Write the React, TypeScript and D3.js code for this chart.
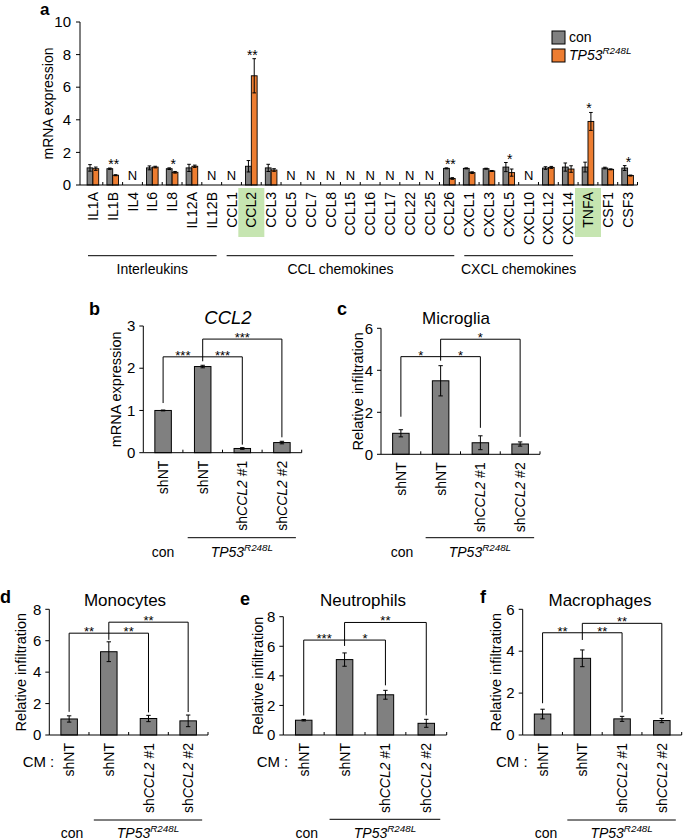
import React from "react";
import * as d3 from "d3";

// ---------- Panel a data ----------
const genes = ["IL1A","IL1B","IL4","IL6","IL8","IL12A","IL12B","CCL1","CCL2","CCL3","CCL5","CCL7","CCL8","CCL15","CCL16","CCL17","CCL22","CCL25","CCL26","CXCL1","CXCL3","CXCL5","CXCL10","CXCL12","CXCL14","TNFA","CSF1","CSF3"];
const conMean: (number | null)[] = [1.05,1.0,null,1.05,1.0,1.05,null,null,1.15,1.05,null,null,null,null,null,null,null,null,1.02,1.02,1.0,1.1,null,1.04,1.1,1.1,1.04,1.04];
const conErr = [0.2,0.04,0,0.12,0.05,0.22,0,0,0.35,0.22,0,0,0,0,0,0,0,0,0.03,0.03,0.03,0.28,0,0.08,0.25,0.3,0.05,0.15];
const mutMean: (number | null)[] = [1.0,0.6,null,1.1,0.78,1.15,null,null,6.7,0.92,null,null,null,null,null,null,null,null,0.4,0.76,0.86,0.76,null,1.08,0.98,3.9,0.96,0.58];
const mutErr = [0.1,0.03,0,0.05,0.05,0.07,0,0,1.05,0.08,0,0,0,0,0,0,0,0,0.05,0.05,0.03,0.22,0,0.06,0.2,0.55,0.03,0.03];
const geneSig = ["","**","","","*","","","","**","","","","","","","","","","**","","","*","","","","*","","*"];
const highlighted = ["CCL2","TNFA"];
const groupNames = ["Interleukins","CCL chemokines","CXCL chemokines"];
const groupStart = ["IL1A","CCL1","CXCL1"];
const groupEnd = ["IL12B","CCL26","CXCL14"];
const yTicksA = [0,2,4,6,8,10];

// ---------- Panels b-f data ----------
const conditions = ["shNT","shNT","shCCL2 #1","shCCL2 #2"];
const panelTitles = ["CCL2","Microglia","Monocytes","Neutrophils","Macrophages"];
const panelLetters = ["b","c","d","e","f"];
const panelYLabels = ["mRNA expression","Relative infiltration","Relative infiltration","Relative infiltration","Relative infiltration"];
const panelMax = [3,6,8,8,6];
const panelStep = [1,2,2,2,2];
const bValues = [1.0,2.04,0.1,0.24];
const bErrors = [0.01,0.03,0.02,0.03];
const cValues = [1.0,3.5,0.55,0.49];
const cErrors = [0.17,0.72,0.33,0.1];
const dValues = [1.02,5.3,1.05,0.9];
const dErrors = [0.2,0.63,0.2,0.37];
const eValues = [1.0,5.1,2.72,0.79];
const eErrors = [0.05,0.45,0.3,0.27];
const fValues = [1.0,3.66,0.77,0.69];
const fErrors = [0.23,0.4,0.12,0.1];
const bStars = ["***","***","***"];
const cStars = ["*","*","*"];
const dStars = ["**","**","**"];
const eStars = ["***","*","**"];
const fStars = ["**","**","**"];
const bBrackets = [2.27,2.69];
const cBrackets = [4.65,5.48];
const dBrackets = [6.48,7.18];
const eBrackets = [6.42,7.61];
const fBrackets = [4.88,5.33];

const FONT = "Arial, 'Liberation Sans', Helvetica, sans-serif";
const GREY = "#808080";
const ORANGE = "#ED7D31";

function TP53({ x, y, anchor = "middle", size = 14 }: any) {
  return (
    <text x={x} y={y} textAnchor={anchor} fontSize={size} fontFamily={FONT}>
      <tspan fontStyle="italic">TP53</tspan>
      <tspan fontStyle="italic" fontSize={size * 0.7} dy={-size * 0.42}>R248L</tspan>
    </text>
  );
}

function ErrorBar({ cx, y0, y1, w = 2.2 }: any) {
  return (
    <g stroke="#000" strokeWidth={1}>
      <line x1={cx} x2={cx} y1={y0} y2={y1} />
      <line x1={cx - w} x2={cx + w} y1={y0} y2={y0} />
      <line x1={cx - w} x2={cx + w} y1={y1} y2={y1} />
    </g>
  );
}

function PanelA() {
  const x = d3.scaleBand<string>().domain(genes).range([83, 637.5]);
  const y = d3.scaleLinear().domain([0, 10]).range([185, 22]);
  const bw = 5.8;
  const axisLeft = 80;
  const axisRight = 637.5;
  return (
    <g fontFamily={FONT}>
      <text x={40} y={15} fontSize={17} fontWeight="bold">a</text>
      {highlighted.map((g) => (
        <rect key={g} x={x(g)! + x.bandwidth() / 2 - 13} y={188} width={26} height={49} fill="#c6e5b1" />
      ))}
      {/* y axis */}
      <line x1={axisLeft} x2={axisLeft} y1={y(10)} y2={y(0)} stroke="#000" />
      {yTicksA.map((t) => (
        <g key={t}>
          <line x1={axisLeft - 4} x2={axisLeft} y1={y(t)} y2={y(t)} stroke="#000" />
          <text x={axisLeft - 9} y={y(t)} dy="0.35em" textAnchor="end" fontSize={15}>{t}</text>
        </g>
      ))}
      <text transform={`translate(53,${(y(0) + y(10)) / 2}) rotate(-90)`} textAnchor="middle" fontSize={14}>mRNA expression</text>
      {/* bars */}
      {genes.map((g, i) => {
        const c = x(g)! + x.bandwidth() / 2;
        const cv = conMean[i];
        const mv = mutMean[i];
        if (cv === null || mv === null) {
          return <text key={g} x={c} y={180} textAnchor="middle" fontSize={13}>N</text>;
        }
        const top = Math.min(y(cv + conErr[i]), y(mv + mutErr[i]));
        return (
          <g key={g}>
            <rect x={c - bw} y={y(cv)} width={bw} height={y(0) - y(cv)} fill={GREY} stroke="#000" strokeWidth={0.9} />
            <rect x={c} y={y(mv)} width={bw} height={y(0) - y(mv)} fill={ORANGE} stroke="#000" strokeWidth={0.9} />
            <ErrorBar cx={c - bw / 2} y0={y(cv + conErr[i])} y1={y(cv - conErr[i])} w={1.8} />
            <ErrorBar cx={c + bw / 2} y0={y(mv + mutErr[i])} y1={y(mv - mutErr[i])} w={1.8} />
            {geneSig[i] && (
              <text x={c + 1} y={top + 1} textAnchor="middle" fontSize={14}>{geneSig[i]}</text>
            )}
          </g>
        );
      })}
      {/* x axis */}
      <line x1={axisLeft} x2={axisRight} y1={y(0)} y2={y(0)} stroke="#000" />
      {genes.map((g, i) => (
        <line key={g} x1={x(g)! + x.bandwidth()} x2={x(g)! + x.bandwidth()} y1={y(0) - 3} y2={y(0)} stroke="#000" />
      ))}
      {genes.map((g) => (
        <text key={g} transform={`translate(${x(g)! + x.bandwidth() / 2},192) rotate(-90)`} textAnchor="end" dy="0.36em" fontSize={14}>{g}</text>
      ))}
      {/* groups */}
      {groupNames.map((n, i) => {
        const x0 = x(groupStart[i])! + 5;
        const x1 = x(groupEnd[i])! + x.bandwidth() - 5;
        return (
          <g key={n}>
            <line x1={x0} x2={x1} y1={255.7} y2={255.7} stroke="#000" />
            <text x={(x0 + x1) / 2} y={274} textAnchor="middle" fontSize={14}>{n}</text>
          </g>
        );
      })}
      {/* legend */}
      <rect x={552} y={31} width={13} height={13} fill={GREY} stroke="#000" />
      <text x={569} y={42} fontSize={14}>con</text>
      <rect x={552} y={49} width={13} height={13} fill={ORANGE} stroke="#000" />
      <TP53 x={569} y={60} anchor="start" size={14} />
    </g>
  );
}

function CondLabel({ text }: { text: string }) {
  if (text.startsWith("shCCL2")) {
    return (
      <>
        <tspan>sh</tspan>
        <tspan fontStyle="italic">CCL2</tspan>
        <tspan>{text.slice(6)}</tspan>
      </>
    );
  }
  return <>{text}</>;
}

function BarPanel({ idx, values, errors, stars, brackets, layout }: any) {
  const { left, right, top, bottom, titleX, titleY, letterX, letterY, yLabX, cm, labY, conX, lineY, gaps } = layout;
  const yMax = panelMax[idx];
  const x = d3.scaleBand<number>().domain(d3.range(conditions.length)).range([left, right]);
  const y = d3.scaleLinear().domain([0, yMax]).range([bottom, top]);
  const ticks = d3.range(0, yMax + 0.001, panelStep[idx]);
  const bw = 16.5;
  const cx = (i: number) => x(i)! + x.bandwidth() / 2;
  const errTop = (i: number) => y(values[i] + errors[i]);
  const g = gaps || [5, 5, 5, 5];
  const yb1 = y(brackets[0]);
  const yb2 = y(brackets[1]);
  const italicTitle = idx === 0;
  return (
    <g fontFamily={FONT}>
      <text x={letterX} y={letterY} fontSize={18} fontWeight="bold">{panelLetters[idx]}</text>
      <text x={titleX} y={titleY} textAnchor="middle" fontSize={italicTitle ? 18.5 : 17} fontStyle={italicTitle ? "italic" : "normal"}>{panelTitles[idx]}</text>
      <line x1={left} x2={left} y1={top} y2={bottom} stroke="#000" />
      {ticks.map((t: number) => (
        <g key={t}>
          <line x1={left - 4} x2={left} y1={y(t)} y2={y(t)} stroke="#000" />
          <text x={left - 8} y={y(t)} dy="0.35em" textAnchor="end" fontSize={15}>{t}</text>
        </g>
      ))}
      <text transform={`translate(${yLabX},${(top + bottom) / 2}) rotate(-90)`} textAnchor="middle" fontSize={14.5}>{panelYLabels[idx]}</text>
      {values.map((v: number, i: number) => (
        <g key={i}>
          <rect x={cx(i) - bw / 2} y={y(v)} width={bw} height={bottom - y(v)} fill={GREY} stroke="#000" strokeWidth={1} />
          <ErrorBar cx={cx(i)} y0={y(v + errors[i])} y1={y(Math.max(0, v - errors[i]))} w={2.2} />
        </g>
      ))}
      <line x1={left} x2={right} y1={bottom} y2={bottom} stroke="#000" />
      {conditions.map((c, i) => (
        <line key={i} x1={x(i)! + x.bandwidth()} x2={x(i)! + x.bandwidth()} y1={bottom - 3} y2={bottom} stroke="#000" />
      ))}
      {conditions.map((c, i) => (
        <text key={i} transform={`translate(${cx(i)},${bottom + 8}) rotate(-90)`} textAnchor="end" dy="0.36em" fontSize={14}>
          <CondLabel text={c} />
        </text>
      ))}
      {/* brackets */}
      <g stroke="#000" fill="none" strokeWidth={1}>
        <polyline points={`${cx(0)},${errTop(0) - g[0]} ${cx(0)},${yb1} ${cx(2)},${yb1} ${cx(2)},${errTop(2) - g[2]}`} />
        <polyline points={`${cx(1)},${errTop(1) - g[1]} ${cx(1)},${yb2} ${cx(3)},${yb2} ${cx(3)},${errTop(3) - g[3]}`} />
      </g>
      <text x={(cx(0) + cx(1)) / 2} y={yb1 + 3} textAnchor="middle" fontSize={13}>{stars[0]}</text>
      <text x={(cx(1) + cx(2)) / 2} y={yb1 + 3} textAnchor="middle" fontSize={13}>{stars[1]}</text>
      <text x={(cx(1) + cx(3)) / 2} y={yb2 + 3} textAnchor="middle" fontSize={13}>{stars[2]}</text>
      {cm && <text x={left + 5} y={767} textAnchor="end" fontSize={15}>CM :</text>}
      <line x1={cx(1) - 15} x2={cx(3) + 14} y1={lineY} y2={lineY} stroke="#000" />
      <text x={conX} y={labY} textAnchor="middle" fontSize={14}>con</text>
      <TP53 x={(cx(1) - 15 + cx(3) + 14) / 2} y={labY} size={14} />
    </g>
  );
}

export default function App() {
  return (
    <svg width={685} height={840} style={{ position: "absolute", left: 0, top: 0, background: "#fff" }}>
      <rect width={685} height={840} fill="#fff" />
      <PanelA />
      <BarPanel idx={0} values={bValues} errors={bErrors} stars={bStars} brackets={bBrackets}
        layout={{ left: 143.3, right: 301.7, top: 326, bottom: 452.7, titleX: 228, titleY: 324, letterX: 89, letterY: 315, yLabX: 121, cm: false, labY: 557, conX: 163, lineY: 537.7, gaps: [7, 4, 3, 4] }} />
      <BarPanel idx={1} values={cValues} errors={cErrors} stars={cStars} brackets={cBrackets}
        layout={{ left: 381, right: 540, top: 328.3, bottom: 454.3, titleX: 456, titleY: 324, letterX: 337, letterY: 315, yLabX: 363, cm: false, labY: 557, conX: 402, lineY: 537.7, gaps: [13, 5, 8, 5] }} />
      <BarPanel idx={2} values={dValues} errors={dErrors} stars={dStars} brackets={dBrackets}
        layout={{ left: 49.3, right: 208, top: 609.3, bottom: 735, titleX: 125, titleY: 606, letterX: 0, letterY: 603, yLabX: 26, cm: true, labY: 838, conX: 72, lineY: 820, gaps: [4, 2, 3, 3] }} />
      <BarPanel idx={3} values={eValues} errors={eErrors} stars={eStars} brackets={eBrackets}
        layout={{ left: 283.3, right: 446.7, top: 616.7, bottom: 735, titleX: 363, titleY: 606, letterX: 240, letterY: 605, yLabX: 263, cm: true, labY: 838, conX: 306.7, lineY: 819.3, gaps: [4, 7, 5, 4] }} />
      <BarPanel idx={4} values={fValues} errors={fErrors} stars={fStars} brackets={fBrackets}
        layout={{ left: 522.7, right: 681.7, top: 609.3, bottom: 735, titleX: 600, titleY: 606, letterX: 480, letterY: 603, yLabX: 501, cm: true, labY: 838, conX: 546, lineY: 820, gaps: [6, 10, 4, 4] }} />
    </svg>
  );
}
